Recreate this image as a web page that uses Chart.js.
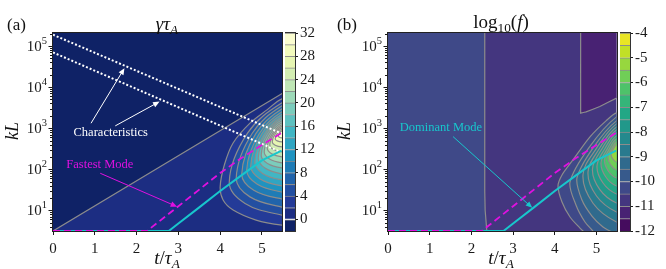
<!DOCTYPE html>
<html><head><meta charset="utf-8">
<script src="https://cdn.jsdelivr.net/npm/chart.js@4.4.1/dist/chart.umd.min.js"></script>
<style>
html,body{margin:0;padding:0;background:#fff;}
body{width:666px;height:269px;position:relative;overflow:hidden;font-family:'Liberation Serif','DejaVu Serif',serif;color:#111;}
.box{position:absolute;top:0;height:269px;}
.t{position:absolute;white-space:nowrap;line-height:1;}
.c{text-align:center;}
.t sub{font-size:70%;vertical-align:-0.3em;line-height:0;}
.rot{transform:rotate(-90deg);}
</style></head><body>
<div class="box" style="left:0;width:284px"><canvas id="mainA"></canvas></div>
<div class="box" style="left:285px;width:48px"><canvas id="barA"></canvas></div>
<div class="box" style="left:336px;width:282px"><canvas id="mainB"></canvas></div>
<div class="box" style="left:620px;width:46px"><canvas id="barB"></canvas></div>

<div class="t" style="left:7px;top:16px;font-size:17px">(a)</div>
<div class="t" style="left:337px;top:16px;font-size:17px">(b)</div>
<div class="t c" style="left:67px;width:200px;top:14px;font-size:19px"><i>γτ</i><sub><i>A</i></sub></div>
<div class="t c" style="left:401px;width:200px;top:12px;font-size:19px">log<sub>10</sub>(<i>f</i>)</div>
<div class="t c" style="left:67px;width:200px;top:248px;font-size:19px"><i>t</i>/<i>τ</i><sub><i>A</i></sub></div>
<div class="t c" style="left:401px;width:200px;top:248px;font-size:19px"><i>t</i>/<i>τ</i><sub><i>A</i></sub></div>
<div class="t c rot" style="left:-8px;width:40px;top:122px;font-size:18px"><i>kL</i></div>
<div class="t c rot" style="left:324px;width:40px;top:122px;font-size:18px"><i>kL</i></div>

<script>
// ================= DATA =================
const tTicks = [0, 1, 2, 3, 4, 5];
const tRange = [0, 5.48];
const kLRange = [3.14, 208000];
const kLMajor = [10, 100, 1000, 10000, 100000];
const kLMajorExp = ['1', '2', '3', '4', '5'];

const levelsA = [-2,0,2,4,6,8,10,12,14,16,18,20,22,24,26,28,30,32];
const cbTicksA = [0,4,8,12,16,20,24,28,32];
const levelsB = [-12,-11.5,-11,-10.5,-10,-9.5,-9,-8.5,-8,-7.5,-7,-6.5,-6,-5.5,-5,-4.5,-4];
const cbTicksB = [-12,-11,-10,-9,-8,-7,-6,-5,-4];

// Fastest mode (magenta, dashed)
const fastT  = [0, 2.25, 3.0, 3.5, 4.0, 4.5, 5.0, 5.48];
const fastKL = [3.14, 3.14, 12.6, 32, 81, 185, 390, 780];
// Dominant mode (cyan)
const domT  = [0, 2.77, 3.0, 3.5, 4.0, 4.5, 5.0, 5.47];
const domKL = [3.14, 3.14, 4.8, 11.8, 29.5, 70, 165, 285];
// Characteristics (white dotted)
const charHiT = [0, 5.42];
const charHiKL = [189000, 780];
const charLoT = [0, 5.42];
const charLoKL = [70000, 270];
// (a) zero-level contour (diagonal)
const zeroT = [0, 5.48];
const zeroKL = [3.14, 7000];
// (a) contours of gamma*tau_A = 2,4,...,30 : [t, log10(kL)]
const contoursA = [
 [[5.48,3.715],[5.12,3.446],[4.72,3.129],[4.31,2.641],[4.10,2.105],[4.00,1.568],[4.07,1.251],[4.31,1.007],[4.86,0.763],[5.48,0.641]],
 [[5.48,3.617],[4.659,2.885],[4.218,1.690],[4.596,1.167],[5.48,0.885]],
 [[5.48,3.544],[4.768,2.877],[4.385,1.788],[4.713,1.328],[5.48,1.080]],
 [[5.48,3.471],[4.853,2.868],[4.517,1.885],[4.805,1.489],[5.48,1.276]],
 [[5.48,3.398],[4.931,2.860],[4.636,1.983],[4.889,1.634],[5.48,1.446]],
 [[5.48,3.337],[4.993,2.859],[4.732,2.080],[4.956,1.763],[5.48,1.593]],
 [[5.48,3.276],[5.056,2.859],[4.828,2.178],[5.023,1.893],[5.48,1.739]],
 [[5.48,3.227],[5.109,2.866],[4.911,2.276],[5.081,2.022],[5.48,1.885]],
 [[5.48,3.178],[5.156,2.863],[4.983,2.349],[5.132,2.143],[5.48,2.032]],
 [[5.48,3.129],[5.203,2.860],[5.055,2.422],[5.182,2.248],[5.48,2.154]],
 [[5.48,3.080],[5.250,2.867],[5.127,2.520],[5.232,2.377],[5.48,2.300]],
 [[5.48,3.044],[5.289,2.873],[5.187,2.593],[5.274,2.482],[5.48,2.422]],
 [[5.48,3.007],[5.327,2.877],[5.246,2.666],[5.316,2.587],[5.48,2.544]],
 [[5.48,2.971],[5.374,2.883],[5.318,2.739],[5.366,2.692],[5.48,2.666]],
 [[5.48,2.934],[5.421,2.888],[5.390,2.812],[5.416,2.780],[5.48,2.763]]
];
// (b) region boundaries
const bLeftT = [2.32, 2.32, 2.33, 2.37];
const bLeftKL = [208000, 30, 10, 3.14];
const bTopT = [4.62, 4.62, 4.75, 5.08, 5.48];
const bTopKL = [208000, 2320, 2500, 3370, 5400];
// (b) contours of log10 f = -10.5 ... -5.5 : [t, log10(kL)]
const contoursB = [
 [[5.48,3.373],[5.228,3.178],[4.844,2.788],[4.436,2.227],[4.173,1.861],[4.077,1.593],[4.173,1.202],[4.365,0.837],[4.604,0.568],[4.748,0.422],[4.964,0.154]],
 [[5.48,3.276],[4.811,2.515],[4.365,1.690],[4.508,1.129],[4.724,0.715],[4.916,0.495],[5.084,0.276]],
 [[5.48,3.178],[4.911,2.511],[4.532,1.788],[4.652,1.251],[4.892,0.861],[5.156,0.593],[5.324,0.495],[5.48,0.373]],
 [[5.48,3.105],[4.998,2.508],[4.676,1.861],[4.917,1.173],[5.48,0.715]],
 [[5.48,3.032],[5.070,2.505],[4.796,1.934],[5.001,1.349],[5.48,0.959]],
 [[5.48,2.959],[5.134,2.502],[4.904,2.007],[5.077,1.510],[5.48,1.178]],
 [[5.48,2.885],[5.199,2.499],[5.012,2.080],[5.152,1.671],[5.48,1.398]],
 [[5.48,2.812],[5.257,2.496],[5.108,2.154],[5.220,1.817],[5.48,1.593]],
 [[5.48,2.739],[5.307,2.493],[5.192,2.227],[5.278,1.964],[5.48,1.788]],
 [[5.48,2.666],[5.358,2.490],[5.276,2.300],[5.337,2.110],[5.48,1.983]],
 [[5.48,2.593],[5.401,2.487],[5.348,2.373],[5.388,2.256],[5.48,2.178]]
];

// ================= STYLE =================
const FONT = "'Liberation Serif', 'DejaVu Serif', serif";
const GRAY = '#8c8c8c';
const MAGENTA = '#e010e0';
const CYAN = '#18c6cc';
const INK = '#1a1a1a';
const YLGNBU_R = ['#081d58','#253494','#225ea8','#1d91c0','#41b6c4','#7fcdbb','#c7e9b4','#edf8b1','#ffffd9'];
const VIRIDIS = ['#440154','#482475','#414487','#355f8d','#2a788e','#21918c','#22a884','#44bf70','#7ad151','#bddf26','#fde725'];
function hex2rgb(h){return [1,3,5].map(i=>parseInt(h.slice(i,i+2),16));}
function cmap(stops,t){
  const n=stops.length-1, f=Math.min(Math.max(t,0),1)*n, i=Math.min(Math.floor(f),n-1), u=f-i;
  const a=hex2rgb(stops[i]), b=hex2rgb(stops[i+1]);
  return 'rgb('+a.map((v,k)=>Math.round(v+(b[k]-v)*u)).join(',')+')';
}
const colorsA = levelsA.slice(1).map((_,i)=>cmap(YLGNBU_R,(i+0.5)/(levelsA.length-1)));
const colorsB = levelsB.slice(1).map((_,i)=>cmap(VIRIDIS,(i+0.5)/(levelsB.length-1)));

// annotations (data coordinates)
const annA = {
  texts:[{text:'Characteristics',t:1.38,kL:790,color:'#ffffff'},{text:'Fastest Mode',t:1.12,kL:127,color:MAGENTA}],
  arrows:[{from:[0.91,1320],to:[1.71,29000],color:'#ffffff'},{from:[1.49,1140],to:[2.55,4450],color:'#ffffff'},{from:[1.13,80],to:[2.97,12.3],color:MAGENTA}]
};
const annB = {
  texts:[{text:'Dominant Mode',t:1.27,kL:1035,color:CYAN}],
  arrows:[{from:[1.56,624],to:[3.46,11.5],color:CYAN}]
};

// ================= BUILD =================
const EXT_R = 5.8, EXT_L = -0.6, FAR_HI = 1e7, FAR_LO = 1;
function pts(ts,ks){return ts.map((t,i)=>({x:t,y:ks[i]}));}
function lgPts(c){return c.map(p=>({x:p[0],y:Math.pow(10,p[1])}));}
function contourDS(c,color){
  const d=lgPts(c);
  d.unshift({x:EXT_R,y:d[0].y}); d.push({x:EXT_R,y:d[d.length-1].y});
  return {data:d,fill:'shape',backgroundColor:color,borderColor:GRAY,borderWidth:1.2,tension:c.length>6?0.3:0.38,capBezierPoints:false,clip:0,pointRadius:0};
}
function regionDS(d,color){
  return {data:d,fill:'shape',backgroundColor:color,borderColor:GRAY,borderWidth:1.2,tension:0.001,capBezierPoints:false,clip:0,pointRadius:0};
}
function lineDS(d,color,width,dash){
  return {data:d,fill:false,borderColor:color,borderWidth:width,borderDash:dash||[],tension:0,pointRadius:0,borderCapStyle:'butt'};
}
function finish(ds){ds.forEach((d,i)=>{d.order=ds.length-i;});return ds;}

function arrow(ctx,x0,y0,x1,y1,col){
  const a=Math.atan2(y1-y0,x1-x0), hl=6.5, hw=2.8, c=Math.cos(a), s=Math.sin(a);
  ctx.strokeStyle=col; ctx.fillStyle=col; ctx.lineWidth=1;
  ctx.beginPath(); ctx.moveTo(x0,y0); ctx.lineTo(x1-hl*0.8*c,y1-hl*0.8*s); ctx.stroke();
  ctx.beginPath(); ctx.moveTo(x1,y1);
  ctx.lineTo(x1-hl*c+hw*s,y1-hl*s-hw*c); ctx.lineTo(x1-hl*c-hw*s,y1-hl*s+hw*c); ctx.closePath(); ctx.fill();
}
function makeDecor(cfg){
  return {
    id:'decor',
    beforeDatasetsDraw(chart){
      const {ctx,chartArea:c}=chart;
      ctx.save(); ctx.fillStyle=cfg.bg; ctx.fillRect(c.left,c.top,c.right-c.left,c.bottom-c.top); ctx.restore();
    },
    afterDraw(chart){
      const {ctx,chartArea:c,scales:{x,y}}=chart;
      ctx.save();
      cfg.ann.arrows.forEach(ar=>arrow(ctx,x.getPixelForValue(ar.from[0]),y.getPixelForValue(ar.from[1]),x.getPixelForValue(ar.to[0]),y.getPixelForValue(ar.to[1]),ar.color));
      ctx.font='12.5px '+FONT; ctx.textAlign='center'; ctx.textBaseline='middle';
      cfg.ann.texts.forEach(tx=>{ctx.fillStyle=tx.color; ctx.fillText(tx.text,x.getPixelForValue(tx.t),y.getPixelForValue(tx.kL));});
      // y ticks (log)
      ctx.strokeStyle=INK; ctx.lineWidth=1;
      for(let e=0;e<=5;e++) for(let m=1;m<=9;m++){
        const v=m*Math.pow(10,e); if(v<kLRange[0]||v>kLRange[1]) continue;
        const py=Math.round(y.getPixelForValue(v))+0.5, len=(m===1)?3.5:2;
        ctx.beginPath(); ctx.moveTo(c.left-1-len,py); ctx.lineTo(c.left-1,py); ctx.stroke();
      }
      ctx.fillStyle=INK; ctx.textAlign='right'; ctx.textBaseline='middle';
      kLMajor.forEach((v,i)=>{
        const py=y.getPixelForValue(v);
        ctx.font='10.5px '+FONT; const ew=ctx.measureText(kLMajorExp[i]).width;
        ctx.fillText(kLMajorExp[i],c.left-6,py-5);
        ctx.font='15px '+FONT; ctx.fillText('10',c.left-6-ew,py+1);
      });
      ctx.strokeStyle='#222'; ctx.lineWidth=1;
      ctx.strokeRect(Math.round(c.left)-0.5,Math.round(c.top)-0.5,Math.round(c.right-c.left)+1,Math.round(c.bottom-c.top)+1);
      ctx.restore();
    }
  };
}
const frame={id:'frame',afterDraw(chart){const {ctx,chartArea:c}=chart;ctx.save();ctx.strokeStyle='#333';ctx.lineWidth=1;ctx.strokeRect(Math.round(c.left)-0.5,Math.round(c.top)-0.5,Math.round(c.right-c.left)+1,Math.round(c.bottom-c.top)+1);ctx.restore();}};

function mainChart(id,datasets,cfg){
  return new Chart(document.getElementById(id),{
    type:'line',
    data:{datasets:datasets},
    options:{
      responsive:true,maintainAspectRatio:false,animation:false,devicePixelRatio:1,events:[],
      layout:{padding:{top:33,right:cfg.padRight,left:0,bottom:0}},
      elements:{point:{radius:0,hoverRadius:0},line:{capBezierPoints:false}},
      plugins:{legend:{display:false},tooltip:{enabled:false}},
      scales:{
        x:{type:'linear',min:tRange[0],max:tRange[1],
           afterBuildTicks:s=>{s.ticks=tTicks.map(v=>({value:v}));},
           afterFit:s=>{s.height=38;},
           grid:{display:true,drawOnChartArea:false,drawTicks:true,tickLength:4,color:INK,lineWidth:1},
           border:{display:false},
           ticks:{font:{family:FONT,size:15},color:INK,padding:5,maxRotation:0,autoSkip:false}},
        y:{type:'logarithmic',min:kLRange[0],max:kLRange[1],
           afterFit:s=>{s.width=cfg.yWidth;},
           grid:{display:false},border:{display:false},ticks:{display:false}}
      }
    },
    plugins:[makeDecor(cfg)]
  });
}
function colorbar(id,levels,colors,ticks,yWidth){
  const ds=colors.map((c,i)=>({data:[[levels[i],levels[i+1]]],backgroundColor:c,borderColor:GRAY,
    borderWidth:{top:1,left:0,right:0,bottom:0},borderSkipped:false,grouped:false,barPercentage:1,categoryPercentage:1}));
  return new Chart(document.getElementById(id),{
    type:'bar',data:{labels:[''],datasets:ds},
    options:{responsive:true,maintainAspectRatio:false,animation:false,devicePixelRatio:1,events:[],
      layout:{padding:{top:33,bottom:38,left:0,right:0}},
      plugins:{legend:{display:false},tooltip:{enabled:false}},
      scales:{x:{display:false},
        y:{position:'right',min:levels[0],max:levels[levels.length-1],
           afterBuildTicks:s=>{s.ticks=ticks.map(v=>({value:v}));},
           afterFit:s=>{s.width=yWidth;},
           grid:{drawOnChartArea:false,tickLength:3,color:INK},border:{display:false},
           ticks:{font:{family:FONT,size:15},color:INK,padding:2}}}},
    plugins:[frame]
  });
}

// ---- panel (a)
const dsA=[];
dsA.push(regionDS([...pts(zeroT,zeroKL),{x:EXT_R,y:zeroKL[1]},{x:EXT_R,y:FAR_LO},{x:EXT_L,y:FAR_LO},{x:EXT_L,y:zeroKL[0]}],colorsA[1]));
contoursA.forEach((c,j)=>dsA.push(contourDS(c,colorsA[j+2])));
dsA.push(lineDS(pts(charHiT,charHiKL),'#ffffff',2,[2,2]));
dsA.push(lineDS(pts(charLoT,charLoKL),'#ffffff',2,[2,2]));
dsA.push(lineDS(pts(domT,domKL),CYAN,2));
dsA.push(lineDS(pts(fastT,fastKL),MAGENTA,1.8,[7,4]));
mainChart('mainA',finish(dsA),{bg:colorsA[0],ann:annA,yWidth:53,padRight:2});
colorbar('barA',levelsA,colorsA,cbTicksA,38);

// ---- panel (b)
const dsB=[];
dsB.push(regionDS([{x:bLeftT[0],y:FAR_HI},...pts(bLeftT,bLeftKL),{x:bLeftT[bLeftT.length-1],y:FAR_LO},{x:EXT_L,y:FAR_LO},{x:EXT_L,y:FAR_HI}],colorsB[3]));
dsB.push(regionDS([{x:bTopT[0],y:FAR_HI},...pts(bTopT,bTopKL),{x:EXT_R,y:bTopKL[bTopKL.length-1]},{x:EXT_R,y:FAR_HI}],colorsB[1]));
contoursB.forEach((c,j)=>dsB.push(contourDS(c,colorsB[j+3])));
dsB.push(lineDS(pts(domT,domKL),CYAN,2));
dsB.push(lineDS(pts(fastT,fastKL),MAGENTA,1.8,[7,4]));
mainChart('mainB',finish(dsB),{bg:colorsB[2],ann:annB,yWidth:52,padRight:1.5});
colorbar('barB',levelsB,colorsB,cbTicksB,36);
</script>
</body></html>
